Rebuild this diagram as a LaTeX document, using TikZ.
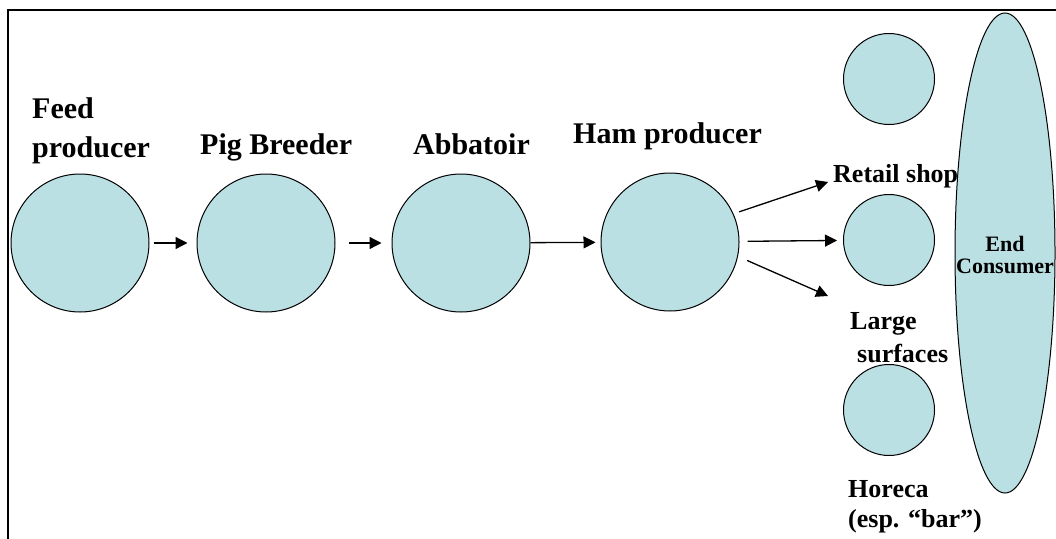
\documentclass[tikz,border=0pt]{standalone}
\usepackage{fontspec}
\setmainfont{Liberation Serif}
\usetikzlibrary{arrows.meta,shapes.geometric}
\definecolor{stagefill}{HTML}{BBE0E3}
\tikzset{
    stage/.style={draw, circle, fill=stagefill, line width=1pt, minimum size=138pt, inner sep=0pt},
    outlet/.style={draw, circle, fill=stagefill, line width=1pt, minimum size=91pt, inner sep=0pt},
    flow/.style={-{Triangle[length=12pt, width=12pt]}, line width=1.3pt},
    lbl/.style={font=\fontsize{30}{39}\selectfont\bfseries, inner sep=0pt, anchor=base west, align=left},
    sublbl/.style={font=\fontsize{26}{30}\selectfont\bfseries, inner sep=0pt, anchor=base west, align=left}
}

\begin{document}
\begin{tikzpicture}[x=1pt, y=-1pt]
    \useasboundingbox (0,0) rectangle (1056,538);
    % frame, open at the bottom
    \draw[line width=2.5pt] (8,545) -- (8,10) -- (1060,10);

    % chain stages
    \node[stage] (feed) at (80,243) {};
    \node[stage] (pig) at (266,243) {};
    \node[stage] (abb) at (461,243) {};
    \node[stage] (ham) at (670,242) {};

    % selling points
    \node[outlet] (top) at (889,79) {};
    \node[outlet] (retail) at (889,240) {};
    \node[outlet] (horeca) at (889,410) {};

    \node[draw, ellipse, fill=stagefill, line width=1pt, minimum width=100pt, minimum height=480pt,
          font=\fontsize{22}{22}\selectfont\bfseries, align=center, inner sep=0pt] (consumer) at (1005,253) {};
    \node[font=\fontsize{22}{22}\selectfont\bfseries, align=center, inner sep=0pt, anchor=base]
          (consumerlbl) at (1005,273) {End\\Consumer};

    % labels (base = last line)
    \node[lbl] (feedlbl) at (32,157) {Feed\\producer};
    \node[lbl] (piglbl) at (200,154) {Pig Breeder};
    \node[lbl] (abblbl) at (413,154) {Abbatoir};
    \node[lbl] (hamlbl) at (573,143) {Ham producer};
    \node[sublbl] (retaillbl) at (833,182) {Retail shop};
    \node[sublbl, font=\fontsize{26}{33}\selectfont\bfseries] (largelbl) at (850,362) {Large\\\hspace*{7pt}surfaces};
    \node[sublbl] (horecalbl) at (848,527) {Horeca\\(esp. “bar”)};

    % flows
    \coordinate (toretail) at (828,182);
    \coordinate (tolarge) at (828,296);
    \draw[flow, shorten <=4pt, shorten >=9pt] (feed) -- (pig);
    \draw[flow, shorten <=13pt, shorten >=10pt] (pig) -- (abb);
    \draw[flow, shorten >=5pt] (abb) -- (ham);
    \draw[flow, shorten <=6pt] (ham.24) -- (toretail);
    \draw[flow, shorten <=8pt, shorten >=6pt] (ham) -- (retail);
    \draw[flow, shorten <=10pt] (ham.-12) -- (tolarge);
\end{tikzpicture}
\end{document}
